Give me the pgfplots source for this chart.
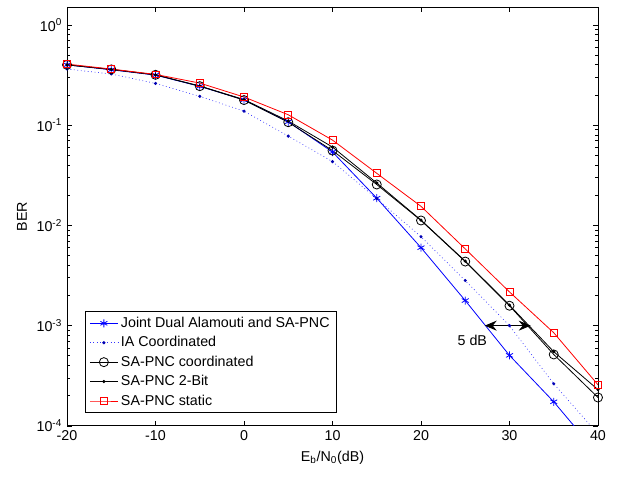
\documentclass[border=0pt]{standalone}
\usepackage{fontspec}
\setmainfont{Liberation Sans}
\usepackage{pgfplots}
\pgfplotsset{compat=1.18}
\usetikzlibrary{arrows.meta}

\begin{document}
\fontsize{10.7}{12.5}\selectfont
\begin{tikzpicture}
\begin{axis}[
  scale only axis,
  width=398pt, height=314pt,
  ymode=log, log basis y=10,
  xmin=-20, xmax=40, ymin=1e-4, ymax=1.51,
  xtick={-20,-10,...,40},
  ytick={1e-4,1e-3,1e-2,1e-1,1},
  minor ytick={2e-4,3e-4,4e-4,5e-4,6e-4,7e-4,8e-4,9e-4,
               2e-3,3e-3,4e-3,5e-3,6e-3,7e-3,8e-3,9e-3,
               2e-2,3e-2,4e-2,5e-2,6e-2,7e-2,8e-2,9e-2,
               0.2,0.3,0.4,0.5,0.6,0.7,0.8,0.9},
  yticklabels={10\textsuperscript{-4},10\textsuperscript{-3},10\textsuperscript{-2},10\textsuperscript{-1},10\textsuperscript{0}},
  /pgf/number format/assume math mode=true,
  tick align=inside,
  tick pos=both,
  major tick length=4pt, minor tick length=2pt,
  every tick/.style={black, line width=0.5pt},
  axis line style={line width=0.6pt},
  xlabel={E\textsubscript{b}/N\textsubscript{0}(dB)},
  ylabel={BER},
  legend cell align=left,
  legend style={at={(0.034,0.031)}, anchor=south west, draw=black, line width=0.5pt,
    font=\fontsize{10.7}{12.5}\selectfont, row sep=1.2pt},
  legend image code/.code={\draw[mark repeat=2,mark phase=2]
    plot coordinates {(0cm,0cm) (0.37cm,0cm) (0.74cm,0cm)};},
  every axis plot/.append style={line width=0.6pt},
]
% Joint Dual Alamouti and SA-PNC
\addplot[blue, mark=asterisk, mark size=3pt] coordinates {
(-20,0.40) (-15,0.357) (-10,0.316) (-5,0.244) (0,0.179) (5,0.108) (10,0.054)
(15,0.0187) (20,0.0060) (25,0.00178) (30,5.05e-4) (35,1.74e-4) (40,5.2e-5)};
\addlegendentry{Joint Dual Alamouti and SA-PNC}
% IA Coordinated
\addplot[blue!80!white, dotted, line width=0.5pt, mark=*, mark size=0.9pt, mark options={solid, blue!70!black}] coordinates {
(-20,0.363) (-15,0.324) (-10,0.261) (-5,0.194) (0,0.138) (5,0.0778) (10,0.0433)
(15,0.0185) (20,0.00772) (25,0.00282) (30,1.0e-3) (35,2.63e-4) (40,8.3e-5)};
\addlegendentry{IA Coordinated}
% SA-PNC coordinated
\addplot[black, mark=o, mark size=3.4pt] coordinates {
(-20,0.40) (-15,0.36) (-10,0.318) (-5,0.245) (0,0.178) (5,0.107) (10,0.0558)
(15,0.0256) (20,0.0112) (25,0.00436) (30,1.58e-3) (35,5.16e-4) (40,1.92e-4)};
\addlegendentry{SA-PNC coordinated}
% SA-PNC 2-Bit
\addplot[black, mark=*, mark size=0.9pt] coordinates {
(-20,0.40) (-15,0.36) (-10,0.318) (-5,0.246) (0,0.180) (5,0.110) (10,0.0605)
(15,0.0265) (20,0.0113) (25,0.00440) (30,1.60e-3) (35,5.5e-4) (40,2.3e-4)};
\addlegendentry{SA-PNC 2-Bit}
% SA-PNC static
\addplot[red, mark=square, mark size=2.6pt] coordinates {
(-20,0.407) (-15,0.363) (-10,0.321) (-5,0.263) (0,0.191) (5,0.127) (10,0.071)
(15,0.0331) (20,0.0155) (25,0.00583) (30,2.17e-3) (35,8.5e-4) (40,2.57e-4)};
\addlegendentry{SA-PNC static}
\draw[line width=0.6pt, {Stealth[length=9pt,width=7.5pt,inset=3pt]}-{Stealth[length=9pt,width=7.5pt,inset=3pt]}]
  (axis cs:27.2,1e-3) -- (axis cs:32.4,1e-3);
\node at (axis cs:25.8,7.1e-4) {5 dB};
\end{axis}
\pgfresetboundingbox
\path[use as bounding box] ([shift={(-50.25pt,-41.25pt)}]current axis.south west)
  rectangle ([shift={(15pt,5.25pt)}]current axis.north east);
\end{tikzpicture}
\end{document}
